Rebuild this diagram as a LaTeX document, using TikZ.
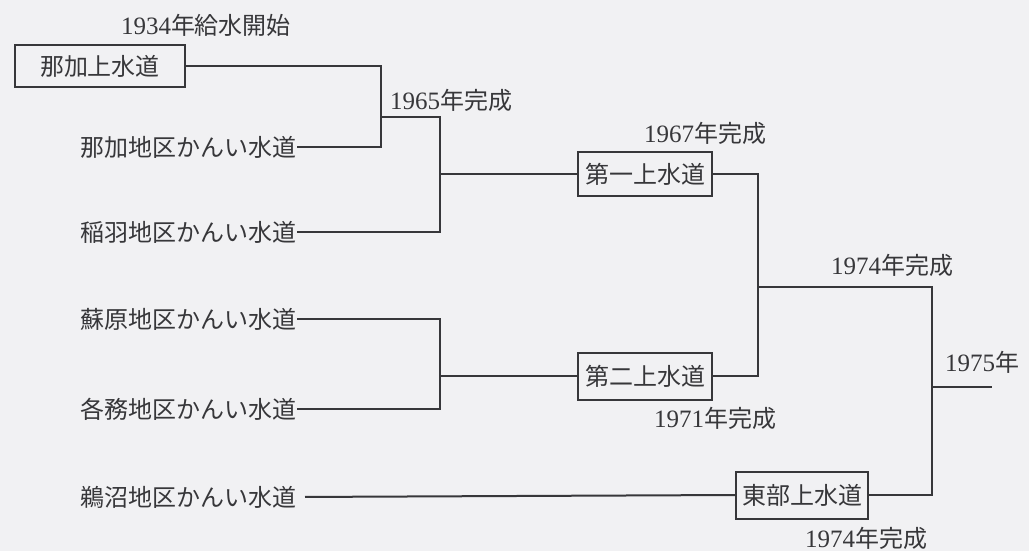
\documentclass[tikz,border=0pt]{standalone}
\usepackage{fontspec}
\setmainfont{Liberation Serif}
\newfontfamily\cjk{Noto Sans CJK JP}
\definecolor{bg}{RGB}{241,241,243}
\definecolor{ink}{RGB}{55,55,58}
\newcommand\yr[1]{{\rmfamily\fontsize{25}{25}\selectfont #1}}
\begin{document}
\begin{tikzpicture}[x=1pt,y=-1pt,
  every node/.style={text=ink, font=\cjk\fontsize{24}{28}\selectfont, inner sep=0pt},
  wbox/.style={draw=ink, line width=2pt, minimum height=44pt, minimum width=134pt},
  lbl/.style={anchor=east},
  conn/.style={draw=ink, line width=2pt}]
\fill[bg] (0,0) rectangle (1029,551);
\useasboundingbox (0,0) rectangle (1029,551);
% boxes
\node[wbox, minimum width=170pt, minimum height=42pt] (naka) at (100,66) {那加上水道};
\node[wbox] (dai1) at (645,174) {第一上水道};
\node[wbox, minimum height=47pt] (dai2) at (645,376) {第二上水道};
\node[wbox, minimum width=132pt, minimum height=47pt] (toubu) at (802,495) {東部上水道};
% left labels
\node[lbl] (nakachiku) at (297,147) {那加地区かんい水道};
\node[lbl] (inaba) at (297,232) {稲羽地区かんい水道};
\node[lbl] (sohara) at (297,319) {蘇原地区かんい水道};
\node[lbl] (kakami) at (297,409) {各務地区かんい水道};
\node[lbl] (unuma) at (297,497) {鵜沼地区かんい水道};
% year labels
\node (t1934) at (206,25) {\yr{1934}年給水開始};
\node (t1965) at (451,100) {\yr{1965}年完成};
\node (t1967) at (705,133) {\yr{1967}年完成};
\node (t1974a) at (892,265) {\yr{1974}年完成};
\node[anchor=west] (t1975) at (945,362) {\yr{1975}年};
\node (t1971) at (715,418) {\yr{1971}年完成};
\node (t1974b) at (866,538) {\yr{1974}年完成};
% junction coordinates
\coordinate (a1) at (381,147);
\coordinate (c1) at (381,117);
\coordinate (c2) at (440,117);
\coordinate (m1) at (440,174);
\coordinate (b2) at (440,409);
\coordinate (m3) at (440,376);
\coordinate (d1) at (758,376);
\coordinate (d2) at (758,287);
\coordinate (d3) at (932,287);
\coordinate (e1) at (932,387);
\coordinate (e2) at (992,387);
% connectors
\draw[conn] (naka.east) -| (a1) -- (nakachiku.east);
\draw[conn] (c1) -- (c2) |- (inaba.east);
\draw[conn] (m1) -- (dai1.west);
\draw[conn] (sohara.east) -| (b2) -- (kakami.east);
\draw[conn] (m3) -- (dai2.west);
\draw[conn] (dai1.east) -| (d1) -- (dai2.east);
\draw[conn] (d2) -- (d3) |- (toubu.east);
\draw[conn] (e1) -- (e2);
\draw[conn, shorten <=8pt] (unuma.east) -- (toubu.west);
\end{tikzpicture}
\end{document}
